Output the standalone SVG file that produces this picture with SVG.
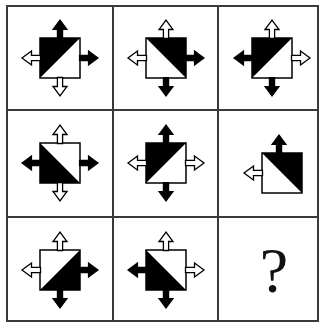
<svg xmlns="http://www.w3.org/2000/svg" xmlns:xlink="http://www.w3.org/1999/xlink" width="320" height="322" viewBox="0 0 320 322">
<style>
.grid{stroke:#3a3a3a;stroke-width:2;fill:none}
.sq{fill:#fff;stroke:#000;stroke-width:1.5}
.tri{fill:#000}
.b{fill:#000;stroke:#000;stroke-width:1.2;stroke-linejoin:miter}
.w{fill:#fff;stroke:#000;stroke-width:1.3;stroke-linejoin:miter}
.q{font-family:"Liberation Serif",serif;font-size:64px;fill:#111;text-anchor:middle}
</style>
<defs>
<path id="arr" d="M-2.6,0.5 V-8.5 H-7 L0,-18 L7,-8.5 H2.6 V0.5 Z"/>
</defs>
<rect width="320" height="322" fill="#fff"/>
<g id="grid">
<rect class="grid" x="7" y="6" width="311" height="315"/>
<line class="grid" x1="113" y1="6" x2="113" y2="321"/>
<line class="grid" x1="218" y1="6" x2="218" y2="321"/>
<line class="grid" x1="7" y1="110" x2="318" y2="110"/>
<line class="grid" x1="7" y1="217" x2="318" y2="217"/>
</g>
<g id="cell1">
<rect class="sq" x="40" y="38" width="40" height="40"/>
<polygon class="tri" points="40,38 80,38 40,78"/>
<use xlink:href="#arr" class="b" transform="translate(60,38)"/>
<use xlink:href="#arr" class="b" transform="translate(80,58) rotate(90)"/>
<use xlink:href="#arr" class="w" transform="translate(60,78) rotate(180)"/>
<use xlink:href="#arr" class="w" transform="translate(40,58) rotate(-90)"/>
</g>
<g id="cell2">
<rect class="sq" x="146" y="38" width="40" height="40"/>
<polygon class="tri" points="146,38 186,38 186,78"/>
<use xlink:href="#arr" class="w" transform="translate(166,38)"/>
<use xlink:href="#arr" class="b" transform="translate(186,58) rotate(90)"/>
<use xlink:href="#arr" class="b" transform="translate(166,78) rotate(180)"/>
<use xlink:href="#arr" class="w" transform="translate(146,58) rotate(-90)"/>
</g>
<g id="cell3">
<rect class="sq" x="252" y="38" width="40" height="40"/>
<polygon class="tri" points="252,38 292,38 252,78"/>
<use xlink:href="#arr" class="w" transform="translate(272,38)"/>
<use xlink:href="#arr" class="w" transform="translate(292,58) rotate(90)"/>
<use xlink:href="#arr" class="b" transform="translate(272,78) rotate(180)"/>
<use xlink:href="#arr" class="b" transform="translate(252,58) rotate(-90)"/>
</g>
<g id="cell4">
<rect class="sq" x="40" y="143" width="40" height="40"/>
<polygon class="tri" points="40,143 80,183 40,183"/>
<use xlink:href="#arr" class="w" transform="translate(60,143)"/>
<use xlink:href="#arr" class="b" transform="translate(80,163) rotate(90)"/>
<use xlink:href="#arr" class="w" transform="translate(60,183) rotate(180)"/>
<use xlink:href="#arr" class="b" transform="translate(40,163) rotate(-90)"/>
</g>
<g id="cell5">
<rect class="sq" x="146" y="143" width="40" height="40"/>
<polygon class="tri" points="146,143 186,143 146,183"/>
<use xlink:href="#arr" class="b" transform="translate(166,143)"/>
<use xlink:href="#arr" class="w" transform="translate(186,163) rotate(90)"/>
<use xlink:href="#arr" class="b" transform="translate(166,183) rotate(180)"/>
<use xlink:href="#arr" class="w" transform="translate(146,163) rotate(-90)"/>
</g>
<g id="cell6">
<rect class="sq" x="262" y="153" width="40" height="40"/>
<polygon class="tri" points="262,153 302,153 302,193"/>
<use xlink:href="#arr" class="b" transform="translate(279,153)"/>
<use xlink:href="#arr" class="w" transform="translate(262,173) rotate(-90)"/>
</g>
<g id="cell7">
<rect class="sq" x="40" y="250" width="40" height="40"/>
<polygon class="tri" points="80,250 80,290 40,290"/>
<use xlink:href="#arr" class="w" transform="translate(60,250)"/>
<use xlink:href="#arr" class="b" transform="translate(80,270) rotate(90)"/>
<use xlink:href="#arr" class="b" transform="translate(60,290) rotate(180)"/>
<use xlink:href="#arr" class="w" transform="translate(40,270) rotate(-90)"/>
</g>
<g id="cell8">
<rect class="sq" x="146" y="250" width="40" height="40"/>
<polygon class="tri" points="146,250 186,290 146,290"/>
<use xlink:href="#arr" class="w" transform="translate(166,250)"/>
<use xlink:href="#arr" class="w" transform="translate(186,270) rotate(90)"/>
<use xlink:href="#arr" class="b" transform="translate(166,290) rotate(180)"/>
<use xlink:href="#arr" class="b" transform="translate(146,270) rotate(-90)"/>
</g>
<g id="cell9">
<text class="q" x="274" y="292">?</text>
</g>
</svg>
